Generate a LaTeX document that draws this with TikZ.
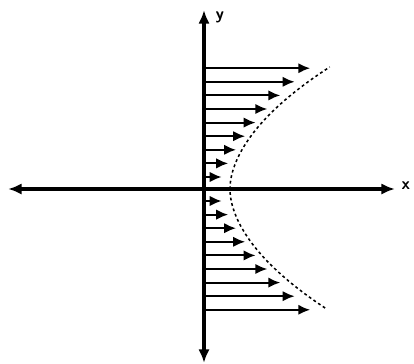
\documentclass[tikz,border=0pt]{standalone}
\usepackage{tikz}
\usetikzlibrary{arrows.meta}

\begin{document}
\begin{tikzpicture}[
    x=0.025cm, y=-0.025cm,
    >=Latex,
    every node/.style={font=\sffamily\bfseries\large},
    axis/.style={<->, line width=2.2pt, >={Latex[length=3.4mm, width=2.8mm]}},
    vel/.style={->, line width=1.5pt, >={Latex[length=3mm, width=2.6mm]}},
    profile/.style={line width=1.1pt, dash pattern=on 2pt off 2pt}
]
\useasboundingbox (0,0) rectangle (414,363);

% Achsen
\coordinate (o)  at (204,189);
\coordinate (xl) at (8,189);
\coordinate (xr) at (395,189);
\coordinate (yt) at (204,10);
\coordinate (yb) at (204,363);
\draw[axis] (xl) -- (xr);
\draw[axis] (yb) -- (yt);
\node[anchor=west, inner sep=1pt] (xlab) at (400,186) {x};
\node[anchor=west, inner sep=1pt] (ylab) at (214,17) {y};

% Geschwindigkeitsprofil
\foreach \i in {1,...,9} {
  \pgfmathsetmacro\d{13.6*\i-1.6}
  \pgfmathsetmacro\L{12+0.35*\d+0.0035*\d*\d}
  \draw[vel] (205,189-\d) -- (205+\L,189-\d);
  \draw[vel] (205,189+\d) -- (205+\L,189+\d);
}

% Einhuellende
\draw[profile] plot[domain=-119:122, samples=80, smooth]
  ({230+0.125*(sqrt(\x*\x+400)-20)+0.00583*\x*\x}, {189-\x});

\end{tikzpicture}
\end{document}
